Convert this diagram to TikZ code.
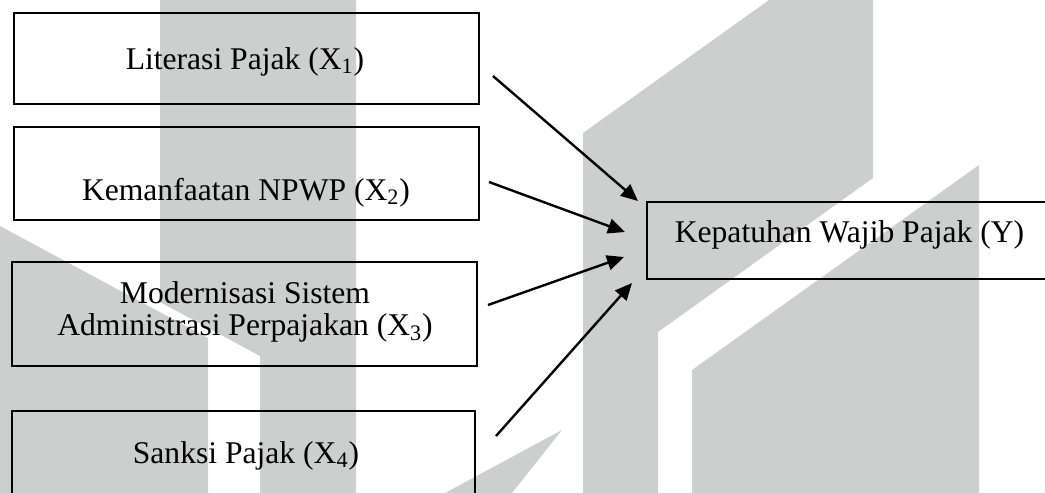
\documentclass[tikz,border=0pt]{standalone}
\usepackage{fontspec}
\setmainfont{Liberation Serif}
\usetikzlibrary{positioning,arrows.meta,calc}
\definecolor{wmgray}{RGB}{205,206,206}

\begin{document}
\begin{tikzpicture}[x=0.5pt,y=-0.5pt,
		kotak/.style={draw,line width=1pt,inner sep=0pt},
		teks/.style={font=\fontsize{15.8}{16}\selectfont,inner sep=0pt,align=center},
		panah/.style={-{Triangle[length=8.5pt,width=7.5pt]},line width=1.2pt}]
					\useasboundingbox (0,0) rectangle (1045,493);
					\clip (0,0) rectangle (1045,493);
					% watermark di latar
					\fill[wmgray] (160,0) -- (356,0) -- (356,493) -- (260,493) -- (260,356) -- (160,302) -- cycle;
					\fill[wmgray] (0,226) -- (208,338) -- (208,493) -- (0,493) -- cycle;
					\fill[wmgray] (583,493) -- (583,133) -- (769,0) -- (873,0) -- (873,178) -- (658,332) -- (658,493) -- cycle;
					\fill[wmgray] (692,493) -- (692,370) -- (979,165) -- (979,493) -- cycle;
					\fill[wmgray] (445,493) -- (562,430) -- (512,493) -- cycle;
					% kotak variabel
					\node[kotak,minimum width=232.5pt,minimum height=45.5pt] (x1) at (246.5,58.5) {};
					\node[kotak,minimum width=232.5pt,minimum height=46.5pt] (x2) at (246.5,173.5) {};
					\node[kotak,minimum width=232.5pt,minimum height=52pt] (x3) at (244.5,314) {};
					\node[kotak,minimum width=231.5pt,minimum height=50pt] (x4) at (243.5,461) {};
					\node[kotak,minimum width=210pt,minimum height=38.5pt] (y) at (857,240.5) {};
					\node[teks,anchor=base] (t1) at (245,69) {Literasi Pajak (X\textsubscript{1})};
					\node[teks,anchor=base] (t2) at (246,200) {Kemanfaatan NPWP (X\textsubscript{2})};
					\node[teks] (t3) at (245,312) {Modernisasi Sistem\\Administrasi Perpajakan (X\textsubscript{3})};
					\node[teks,anchor=base] (t4) at (246,463) {Sanksi Pajak (X\textsubscript{4})};
					\node[teks,anchor=base] (ty) at (849.5,242) {Kepatuhan Wajib Pajak (Y)};
					% panah
					\coordinate (a1) at (493,76);
					\coordinate (b1) at (638,201);
					\coordinate (a2) at (489,182);
					\coordinate (b2) at (625,232);
					\coordinate (a3) at (488,305);
					\coordinate (b3) at (624,257);
					\coordinate (a4) at (496,436);
					\coordinate (b4) at (632,283);
					\draw[panah] (a1) -- (b1);
					\draw[panah] (a2) -- (b2);
					\draw[panah] (a3) -- (b3);
					\draw[panah] (a4) -- (b4);
					\end{tikzpicture}
\end{document}
